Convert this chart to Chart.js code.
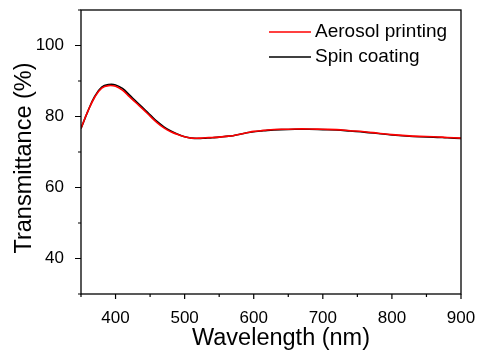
<!DOCTYPE html>
<html>
<head>
<meta charset="utf-8">
<script src="https://cdn.jsdelivr.net/npm/chart.js@4.4.0/dist/chart.umd.min.js"></script>
<style>
  html, body { margin: 0; padding: 0; background: #fff; }
  #wrap { width: 480px; height: 354px; }
</style>
</head>
<body>
<div id="wrap"><canvas id="mainChart" width="480" height="354"></canvas></div>
<script>
// wavelength (nm)
var wavelengths = [350, 360, 370, 380, 390, 400, 410, 420, 430, 440, 450, 460, 470, 480, 490, 500,
  510, 520, 530, 540, 550, 560, 570, 580, 590, 600, 610, 620, 640, 660, 680, 700,
  720, 740, 760, 780, 800, 820, 840, 860, 880, 900];
// transmittance (%)
var aerosol = [76.7, 81.5, 85.5, 88.0, 88.7, 88.5, 87.4, 85.6, 83.8, 82.0, 80.1, 78.3, 76.8, 75.7, 74.9, 74.3,
  73.9, 73.9, 74.0, 74.1, 74.2, 74.4, 74.6, 75.0, 75.4, 75.8, 76.0, 76.2, 76.4, 76.5, 76.5, 76.4,
  76.3, 76.0, 75.7, 75.3, 74.9, 74.6, 74.4, 74.3, 74.1, 73.9];
var spin = [76.6, 81.5, 85.7, 88.3, 89.0, 88.9, 87.9, 86.1, 84.2, 82.4, 80.5, 78.6, 77.1, 75.9, 75.0, 74.3,
  73.9, 73.8, 73.9, 74.0, 74.2, 74.4, 74.6, 75.0, 75.4, 75.7, 75.9, 76.1, 76.3, 76.4, 76.4, 76.3,
  76.2, 75.9, 75.6, 75.2, 74.8, 74.5, 74.3, 74.2, 74.0, 73.8];
var seriesNames = ['Aerosol printing', 'Spin coating'];
var seriesColors = ['#ff0000', '#000000'];
var xTickLabels = [400, 500, 600, 700, 800, 900];
var yTickLabels = [40, 60, 80, 100];

var FONT = 'Arial, "Liberation Sans", sans-serif';

function pts(ys) {
  return wavelengths.map(function (x, i) { return { x: x, y: ys[i] }; });
}

// frame, tick marks, axis titles and legend
var decor = {
  id: 'decor',
  afterDraw: function (chart) {
    var ctx = chart.ctx;
    var a = chart.chartArea;
    var xs = chart.scales.x, ys = chart.scales.y;
    ctx.save();
    ctx.strokeStyle = '#000';
    ctx.lineWidth = 1.3;
    ctx.strokeRect(a.left, a.top, a.right - a.left, a.bottom - a.top);

    ctx.lineWidth = 1.2;
    ctx.beginPath();
    xs.ticks.forEach(function (t) {
      var px = xs.getPixelForValue(t.value);
      var len = xTickLabels.indexOf(t.value) >= 0 ? 5 : 3;
      ctx.moveTo(px, a.bottom);
      ctx.lineTo(px, a.bottom + len);
    });
    ys.ticks.forEach(function (t) {
      var py = ys.getPixelForValue(t.value);
      var len = yTickLabels.indexOf(t.value) >= 0 ? 6 : 3;
      ctx.moveTo(a.left, py);
      ctx.lineTo(a.left - len, py);
    });
    ctx.stroke();

    ctx.fillStyle = '#000';
    ctx.font = '23.5px ' + FONT;
    ctx.textAlign = 'center';
    ctx.textBaseline = 'middle';
    ctx.fillText('Wavelength (nm)', 281, 339);
    ctx.save();
    ctx.translate(25, 158);
    ctx.rotate(-Math.PI / 2);
    ctx.fillText('Transmittance (%)', 0, 0);
    ctx.restore();

    ctx.font = '19px ' + FONT;
    ctx.textAlign = 'left';
    chart.data.datasets.forEach(function (ds, i) {
      var y = 32 + i * 25;
      ctx.strokeStyle = ds.borderColor;
      ctx.lineWidth = 1.6;
      ctx.beginPath();
      ctx.moveTo(269, y);
      ctx.lineTo(311, y);
      ctx.stroke();
      ctx.fillText(ds.label, 315, y);
    });
    ctx.restore();
  }
};

new Chart(document.getElementById('mainChart').getContext('2d'), {
  type: 'line',
  data: {
    datasets: [
      { label: seriesNames[0], data: pts(aerosol), borderColor: seriesColors[0], borderWidth: 1.6,
        pointRadius: 0, tension: 0.4, fill: false },
      { label: seriesNames[1], data: pts(spin), borderColor: seriesColors[1], borderWidth: 1.6,
        pointRadius: 0, tension: 0.4, fill: false }
    ]
  },
  options: {
    responsive: false,
    animation: false,
    events: [],
    layout: { padding: { top: 10, right: 19, left: 0, bottom: 0 } },
    plugins: { legend: { display: false }, tooltip: { enabled: false } },
    scales: {
      x: {
        type: 'linear', min: 350, max: 900,
        grid: { display: false },
        border: { display: false },
        afterFit: function (s) { s.height = 60; s.paddingLeft = 0; s.paddingRight = 0; },
        ticks: {
          stepSize: 50, autoSkip: false, maxRotation: 0, padding: 6, color: '#000',
          font: { size: 17, family: FONT },
          callback: function (v) { return xTickLabels.indexOf(v) >= 0 ? String(v) : ''; }
        }
      },
      y: {
        min: 30, max: 110,
        grid: { display: false },
        border: { display: false },
        afterFit: function (s) { s.width = 81; s.paddingTop = 0; s.paddingBottom = 0; },
        ticks: {
          stepSize: 10, autoSkip: false, padding: 9, color: '#000',
          font: { size: 17, family: FONT },
          callback: function (v) { return yTickLabels.indexOf(v) >= 0 ? String(v) : ''; }
        }
      }
    }
  },
  plugins: [decor]
});
</script>
</body>
</html>
